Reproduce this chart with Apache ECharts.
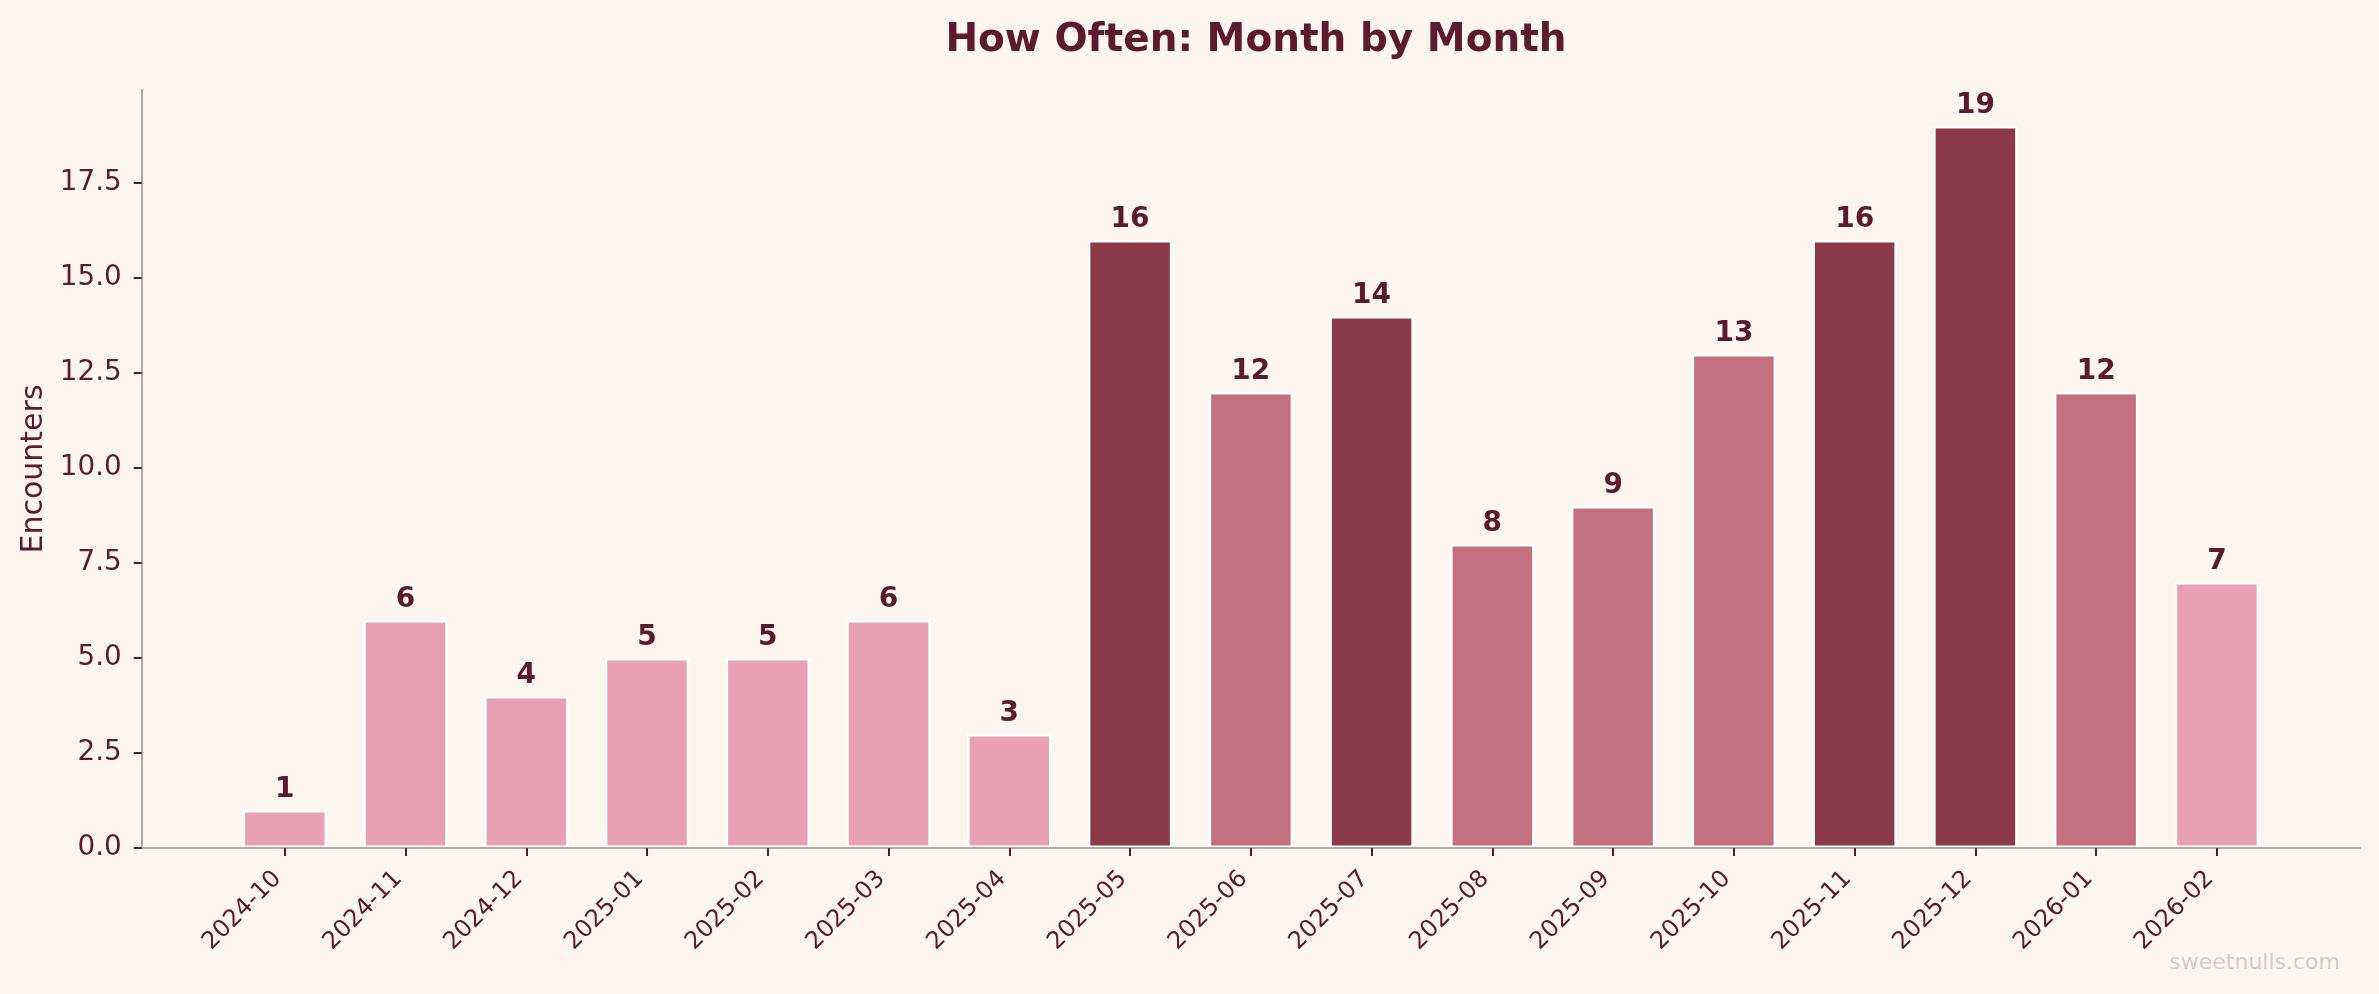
<!DOCTYPE html>
<html>
<head>
<meta charset="utf-8">
<style>
  html, body { margin: 0; padding: 0; background: #fdf5f0; }
  #chart { width: 2379px; height: 994px; }
</style>
<script src="https://cdn.jsdelivr.net/npm/echarts@6/dist/echarts.min.js"></script>
</head>
<body>
<div id="chart"></div>
<script>
const months = ['2024-10','2024-11','2024-12','2025-01','2025-02','2025-03','2025-04','2025-05','2025-06','2025-07','2025-08','2025-09','2025-10','2025-11','2025-12','2026-01','2026-02'];
const encounters = [1, 6, 4, 5, 5, 6, 3, 16, 12, 14, 8, 9, 13, 16, 19, 12, 7];
const yTicks = [0, 2.5, 5, 7.5, 10, 12.5, 15, 17.5];
const titleText = 'How Often: Month by Month';
const yName = 'Encounters';
const watermark = 'sweetnulls.com';

const TEXT = '#5c1a2e';
const AXIS = '#b5a9a3';
const DARK = '#8b3a4a', MID = '#c4707e', LIGHT = '#e8a0b4';
const FONT = 'DejaVu Sans';
function tierColor(v) { return v >= 14 ? DARK : (v >= 8 ? MID : LIGHT); }

const idx = months.map((m, i) => i);
const chart = echarts.init(document.getElementById('chart'), null, { renderer: 'canvas' });
chart.setOption({
  backgroundColor: '#fdf5f0',
  animation: false,
  textStyle: { fontFamily: FONT },
  title: {
    text: titleText, left: 1251, top: 16, textAlign: 'center',
    textStyle: { fontFamily: FONT, fontSize: 39, fontWeight: 'bold', color: TEXT }
  },
  grid: { left: 141.7, right: 19, top: 90, bottom: 146, containLabel: false, outerBoundsMode: 'none' },
  xAxis: {
    type: 'value', min: -1.185, max: 17.185, z: 5,
    splitLine: { show: false },
    axisLine: { show: true, onZero: false, lineStyle: { color: AXIS, width: 2 } },
    axisTick: { show: true, customValues: idx, length: 8, lineStyle: { color: TEXT, width: 2 } },
    axisLabel: {
      customValues: idx, rotate: 45, margin: 20, padding: [0, 10, 0, 0],
      formatter: v => months[Math.round(v)],
      fontFamily: FONT, fontSize: 24, color: TEXT
    }
  },
  yAxis: {
    type: 'value', min: 0, max: 19.95, z: 5,
    name: yName, nameLocation: 'middle', nameRotate: 90, nameGap: 87,
    nameTextStyle: { fontFamily: FONT, fontSize: 30, color: TEXT },
    splitLine: { show: false },
    axisLine: { show: true, onZero: false, lineStyle: { color: AXIS, width: 2 } },
    axisTick: { show: true, customValues: yTicks, length: 8, lineStyle: { color: TEXT, width: 2 } },
    axisLabel: {
      customValues: yTicks, margin: 20,
      formatter: v => v.toFixed(1),
      fontFamily: FONT, fontSize: 27.8, color: TEXT
    }
  },
  graphic: [{
    type: 'text', right: 39, bottom: 20,
    style: { text: watermark, fontFamily: FONT, fontSize: 22, fill: '#d9ccc7' }
  }],
  series: [{
    type: 'bar',
    data: encounters.map((v, i) => ({ value: [i, v], itemStyle: { color: tierColor(v) } })),
    barWidth: 84.5,
    itemStyle: { borderColor: '#ffffff', borderWidth: 2.5 },
    label: {
      show: true, position: 'top', distance: 6,
      formatter: p => String(p.value[1]),
      fontFamily: FONT, fontSize: 28, fontWeight: 'bold', color: TEXT
    }
  }]
});
</script>
</body>
</html>
